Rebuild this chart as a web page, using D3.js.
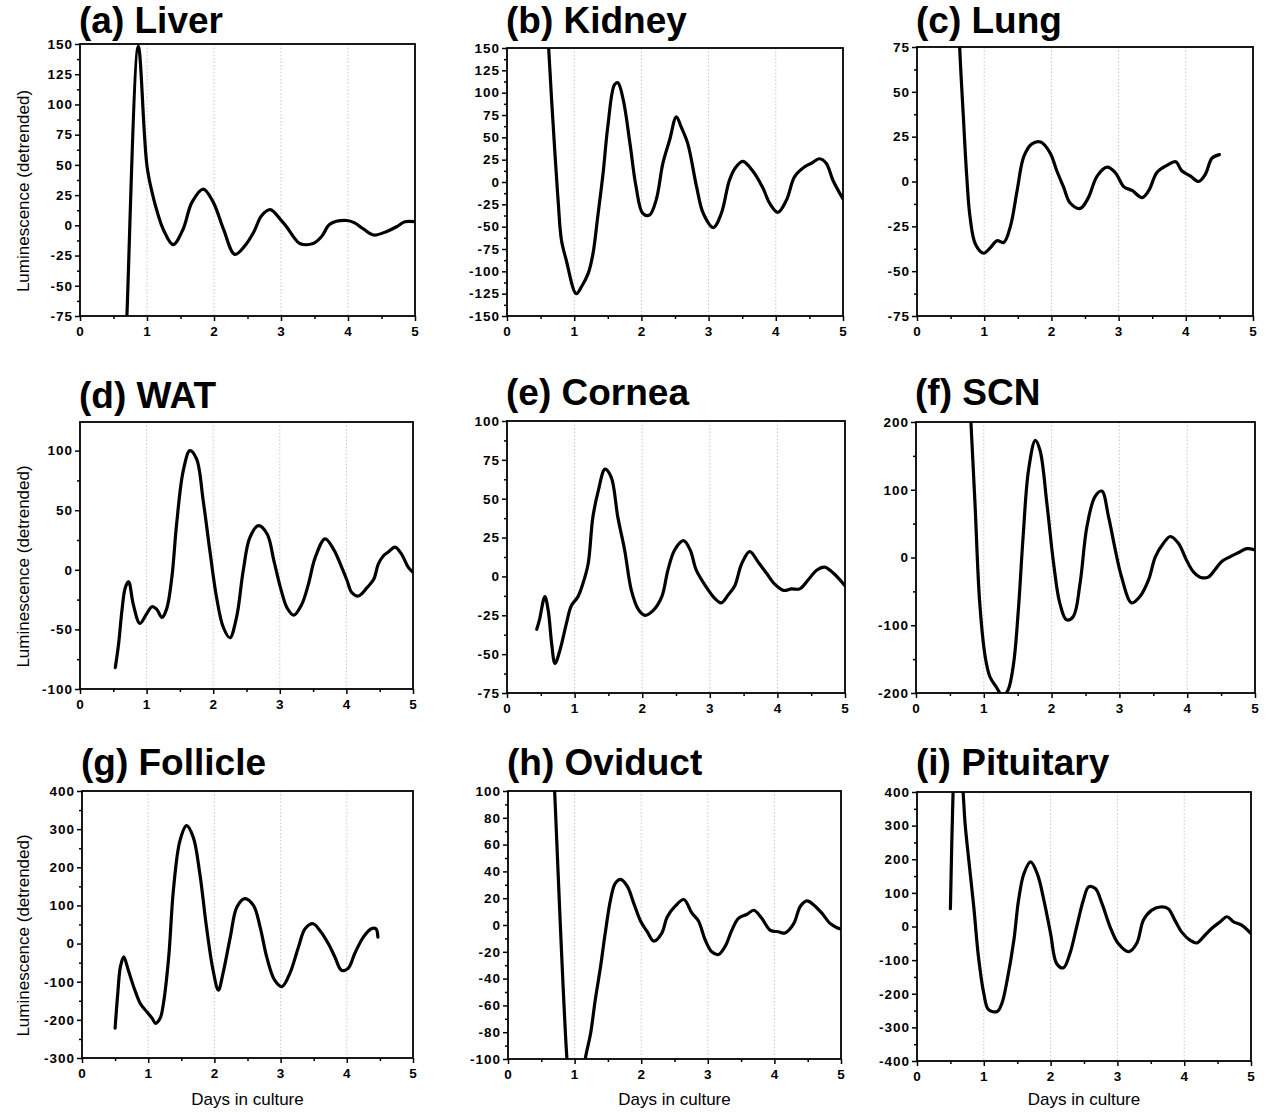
<!DOCTYPE html>
<html>
<head>
<meta charset="utf-8">
<script src="https://cdn.jsdelivr.net/npm/d3@7"></script>
<style>
  body { margin: 0; background: #fff; }
  svg { display: block; font-family: "Liberation Sans", Arial, sans-serif; }
  .tick text { font-weight: bold; font-size: 13.5px; letter-spacing: 1px; }
</style>
</head>
<body>
<svg id="chart" width="1266" height="1112"></svg>
<script>
// --- data: [days, detrended luminescence] ---
const liver = [[0.68,-100],[0.70,-75],[0.87,148],[1.0,49],[1.09,24],[1.17,8],[1.24,-3],[1.39,-16],[1.54,-3],[1.67,19],[1.84,30],[1.99,19],[2.14,-3],[2.31,-24],[2.46,-17],[2.59,-6],[2.71,8],[2.84,13],[2.99,5],[3.08,-1],[3.18,-9],[3.28,-15],[3.48,-15],[3.61,-9],[3.73,1],[3.98,4],[4.10,2],[4.23,-3],[4.38,-8],[4.58,-5],[4.73,-1],[4.85,3],[5.0,3]];
const kidney = [[0.60,190],[0.62,150],[0.71,36],[0.76,-20],[0.81,-65],[0.88,-87],[1.03,-125],[1.11,-117],[1.21,-102],[1.28,-80],[1.35,-39],[1.43,10],[1.50,62],[1.60,109],[1.65,111],[1.73,92],[1.83,43],[1.92,-5],[2.02,-35],[2.12,-37],[2.22,-20],[2.32,21],[2.42,47],[2.52,73],[2.59,62],[2.69,43],[2.82,-5],[2.92,-35],[3.07,-51],[3.19,-35],[3.31,2],[3.41,17],[3.51,23],[3.66,12],[3.81,-7],[3.91,-24],[4.03,-34],[4.16,-20],[4.28,6],[4.43,17],[4.53,21],[4.65,26],[4.75,21],[4.85,2],[5.0,-19]];
const lung = [[0.62,95],[0.635,75],[0.69,36],[0.74,3],[0.79,-20],[0.87,-35],[0.99,-40],[1.09,-37],[1.19,-33],[1.29,-34],[1.39,-25],[1.49,-5],[1.59,14],[1.71,21],[1.84,22],[1.98,16],[2.08,6],[2.18,-3],[2.28,-12],[2.43,-15],[2.55,-9],[2.68,3],[2.83,8],[2.95,5],[3.08,-3],[3.20,-5],[3.35,-9],[3.45,-5],[3.57,5],[3.72,9],[3.85,11],[3.94,6],[4.07,3],[4.19,0],[4.29,4],[4.39,13],[4.50,15]];
const wat = [[0.53,-82],[0.58,-62],[0.63,-34],[0.68,-15],[0.73,-10],[0.80,-29],[0.90,-45],[1.00,-37],[1.08,-31],[1.15,-33],[1.23,-40],[1.30,-33],[1.38,-6],[1.45,38],[1.55,83],[1.65,100],[1.75,93],[1.85,58],[1.95,16],[2.05,-23],[2.15,-48],[2.25,-57],[2.35,-40],[2.45,-1],[2.55,27],[2.68,37],[2.81,30],[2.91,8],[3.01,-15],[3.11,-32],[3.21,-38],[3.33,-29],[3.43,-12],[3.53,10],[3.68,26],[3.81,17],[3.93,2],[4.01,-9],[4.08,-19],[4.18,-22],[4.31,-15],[4.41,-8],[4.48,5],[4.56,12],[4.63,15],[4.73,19],[4.83,13],[4.93,2],[5.0,-2]];
const cornea = [[0.44,-34],[0.48,-28],[0.56,-13],[0.61,-22],[0.66,-43],[0.71,-56],[0.78,-48],[0.88,-30],[0.95,-19],[1.05,-13],[1.12,-5],[1.20,8],[1.27,38],[1.35,55],[1.45,69],[1.54,64],[1.64,38],[1.74,17],[1.84,-9],[1.94,-21],[2.04,-25],[2.16,-22],[2.29,-13],[2.38,4],[2.48,17],[2.61,23],[2.71,17],[2.80,4],[2.95,-7],[3.07,-14],[3.17,-17],[3.27,-12],[3.37,-6],[3.47,8],[3.59,16],[3.72,9],[3.84,2],[3.96,-5],[4.09,-9],[4.21,-8],[4.33,-8],[4.46,-2],[4.58,4],[4.70,6],[4.83,2],[5.0,-6]];
const scn = [[0.78,280],[0.81,200],[0.87,80],[0.94,-67],[1.02,-146],[1.09,-176],[1.19,-192],[1.28,-205],[1.36,-195],[1.44,-156],[1.51,-77],[1.58,31],[1.66,129],[1.76,173],[1.83,158],[1.93,80],[2.03,-9],[2.12,-67],[2.22,-92],[2.32,-87],[2.42,-38],[2.52,45],[2.64,90],[2.74,98],[2.84,60],[2.94,11],[3.03,-28],[3.18,-67],[3.30,-58],[3.43,-33],[3.53,1],[3.65,21],[3.75,31],[3.87,21],[3.99,-4],[4.09,-21],[4.19,-29],[4.31,-29],[4.41,-18],[4.51,-6],[4.63,1],[4.75,7],[4.88,13],[5.0,11]];
const follicle = [[0.50,-222],[0.54,-131],[0.58,-61],[0.63,-35],[0.70,-70],[0.78,-113],[0.88,-157],[0.98,-179],[1.06,-196],[1.11,-209],[1.18,-196],[1.23,-157],[1.31,-35],[1.38,139],[1.48,270],[1.58,309],[1.68,279],[1.78,183],[1.88,44],[1.98,-70],[2.06,-122],[2.13,-78],[2.24,17],[2.34,96],[2.46,118],[2.59,100],[2.69,44],[2.79,-35],[2.91,-96],[3.02,-113],[3.14,-78],[3.27,-9],[3.37,39],[3.49,52],[3.59,35],[3.72,0],[3.82,-35],[3.92,-70],[4.02,-65],[4.12,-26],[4.25,17],[4.37,39],[4.44,39],[4.47,17]];
const oviduct = [[0.69,110],[0.70,100],[0.885,-100],[0.95,-135],[1.02,-145],[1.10,-128],[1.16,-100],[1.24,-81],[1.31,-56],[1.39,-31],[1.46,-6],[1.54,19],[1.61,31],[1.69,34],[1.79,29],[1.89,16],[1.99,3],[2.09,-5],[2.19,-12],[2.31,-6],[2.39,6],[2.51,14],[2.64,19],[2.76,9],[2.86,3],[2.96,-11],[3.06,-20],[3.16,-22],[3.26,-16],[3.36,-4],[3.46,5],[3.59,8],[3.69,11],[3.81,5],[3.94,-4],[4.06,-5],[4.16,-6],[4.29,1],[4.39,14],[4.49,18],[4.59,15],[4.71,9],[4.84,1],[4.94,-2],[5.0,-3]];
const pituitary = [[0.50,53],[0.54,400],[0.58,600],[0.63,560],[0.69,400],[0.72,306],[0.77,207],[0.85,58],[0.92,-90],[1.00,-199],[1.07,-247],[1.20,-253],[1.27,-229],[1.35,-159],[1.45,-41],[1.52,78],[1.60,157],[1.70,192],[1.80,157],[1.90,78],[2.00,-21],[2.09,-110],[2.19,-123],[2.29,-80],[2.39,-1],[2.49,78],[2.57,118],[2.67,113],[2.77,68],[2.89,-1],[3.01,-50],[3.17,-75],[3.29,-50],[3.39,19],[3.51,48],[3.64,58],[3.76,53],[3.86,19],[3.96,-16],[4.09,-41],[4.19,-49],[4.31,-26],[4.41,-6],[4.54,14],[4.64,29],[4.74,14],[4.86,4],[5.0,-21]];

const titles = ['(a) Liver', '(b) Kidney', '(c) Lung', '(d) WAT', '(e) Cornea', '(f) SCN', '(g) Follicle', '(h) Oviduct', '(i) Pituitary'];
const series = [liver, kidney, lung, wat, cornea, scn, follicle, oviduct, pituitary];
const yDomains = [[-75,150],[-150,150],[-75,75],[-100,124],[-75,100],[-200,200],[-300,400],[-100,100],[-400,400]];
const yMajor = [25, 25, 25, 50, 25, 100, 100, 20, 100];
const xDomain = [0, 5];
const yLabel = 'Luminescence (detrended)';
const xLabel = 'Days in culture';

// plot-area boxes [left, top, right, bottom] and title baselines
const boxes = [
  [80, 44, 415, 316], [507, 48, 843, 316], [917, 47, 1253, 316],
  [80, 422, 413, 689], [507, 421, 845, 693], [916, 422, 1255, 693],
  [82, 791, 413, 1058], [508, 791, 841, 1059], [917, 792, 1251, 1061]
];
const titleY = [33, 33, 33, 408, 405, 405, 775, 775, 775];

const svg = d3.select('#chart');
svg.append('rect').attr('width', 1266).attr('height', 1112).attr('fill', '#fff');

const fmt = d => String(d);

series.forEach((data, i) => {
  const [l, t, r, b] = boxes[i];
  const w = r - l, h = b - t;
  const g = svg.append('g').attr('transform', `translate(${l},${t})`);

  const x = d3.scaleLinear().domain(xDomain).range([0, w]);
  const y = d3.scaleLinear().domain(yDomains[i]).range([h, 0]);

  const step = yMajor[i];
  const [y0, y1] = yDomains[i];
  const majors = d3.range(Math.ceil(y0 / step) * step, y1 + 1e-6, step);
  const minors = d3.range(Math.ceil(y0 / (step / 2)) * (step / 2), y1 + 1e-6, step / 2)
    .filter(v => Math.abs(v / step - Math.round(v / step)) > 1e-6);

  // dotted vertical grid
  g.append('g').selectAll('line')
    .data([1, 2, 3, 4])
    .join('line')
    .attr('x1', d => x(d)).attr('x2', d => x(d))
    .attr('y1', 0).attr('y2', h)
    .attr('stroke', '#c8c8c8')
    .attr('stroke-width', 1)
    .attr('stroke-dasharray', '1.5,2');

  // minor ticks
  g.append('g')
    .call(d3.axisLeft(y).tickValues(minors).tickSize(3).tickFormat(''))
    .call(s => s.select('.domain').remove())
    .selectAll('line').attr('stroke-width', 1.5);
  g.append('g').attr('transform', `translate(0,${h})`)
    .call(d3.axisBottom(x).tickValues([0.5, 1.5, 2.5, 3.5, 4.5]).tickSize(3).tickFormat(''))
    .call(s => s.select('.domain').remove())
    .selectAll('line').attr('stroke-width', 1.5);

  // major axes
  const yAx = g.append('g')
    .call(d3.axisLeft(y).tickValues(majors).tickSize(5).tickPadding(2).tickFormat(fmt));
  const xAx = g.append('g').attr('transform', `translate(0,${h})`)
    .call(d3.axisBottom(x).ticks(5).tickSize(5).tickPadding(5).tickFormat(fmt));
  [yAx, xAx].forEach(a => {
    a.selectAll('.domain').remove();
    a.selectAll('line').attr('stroke-width', 1.5).attr('stroke', '#000');
    a.selectAll('text').attr('fill', '#000');
  });

  // clipped curve
  const clipId = 'clip' + i;
  g.append('clipPath').attr('id', clipId)
    .append('rect').attr('width', w).attr('height', h);
  const line = d3.line()
    .x(d => x(d[0])).y(d => y(d[1]))
    .curve(d3.curveCatmullRom.alpha(0.5));
  g.append('path')
    .datum(data)
    .attr('clip-path', `url(#${clipId})`)
    .attr('d', line)
    .attr('fill', 'none')
    .attr('stroke', '#000')
    .attr('stroke-width', 3.2)
    .attr('stroke-linejoin', 'round')
    .attr('stroke-linecap', 'round');

  // frame
  g.append('rect')
    .attr('width', w).attr('height', h)
    .attr('fill', 'none')
    .attr('stroke', '#000')
    .attr('stroke-width', 1.8);

  // title
  svg.append('text')
    .attr('x', l - 1).attr('y', titleY[i])
    .attr('font-size', 37).attr('font-weight', 'bold')
    .text(titles[i]);

  if (i % 3 === 0) {
    svg.append('text')
      .attr('transform', `translate(29,${t + h / 2 + 11}) rotate(-90)`)
      .attr('text-anchor', 'middle')
      .attr('font-size', 17)
      .text(yLabel);
  }
  if (i >= 6) {
    svg.append('text')
      .attr('x', l + w / 2).attr('y', 1105)
      .attr('text-anchor', 'middle')
      .attr('font-size', 17)
      .text(xLabel);
  }
});
</script>
</body>
</html>
